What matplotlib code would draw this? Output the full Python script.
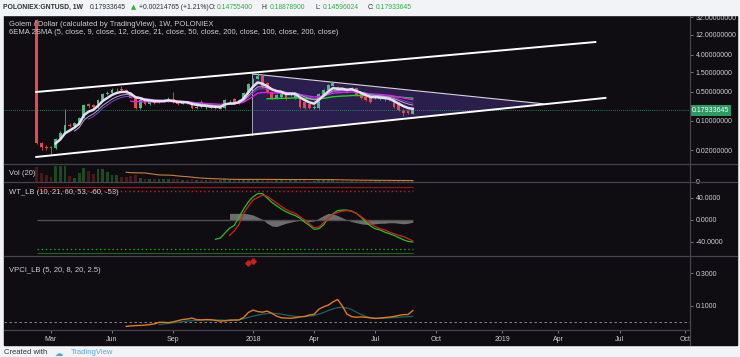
import numpy as np
import pandas as pd
import matplotlib
matplotlib.use('Agg')
import matplotlib.pyplot as plt
import matplotlib.dates as mdates
from matplotlib.patches import Rectangle, Polygon
from matplotlib.lines import Line2D
from matplotlib.ticker import NullLocator
import matplotlib.transforms as mtrans

plt.rcParams['font.family'] = ['Liberation Sans', 'DejaVu Sans']

# weekly candles POLONIEX:GNTUSD
weeks = pd.date_range('2017-02-13', periods=81, freq='W-MON')

opens = [27.0, 0.030, 0.024, 0.023, 0.022, 0.037, 0.051, 0.082, 0.076, 0.090,
         0.118, 0.25, 0.24, 0.22, 0.32, 0.45, 0.47, 0.55, 0.59, 0.56,
         0.48, 0.36, 0.21, 0.30, 0.25, 0.30, 0.28, 0.295, 0.30, 0.34,
         0.30, 0.26, 0.28, 0.27, 0.21, 0.29, 0.215, 0.24, 0.215, 0.20,
         0.21, 0.28, 0.34, 0.27, 0.32, 0.47, 0.78, 1.03, 1.21, 0.82,
         0.50, 0.36, 0.38, 0.45, 0.42, 0.36, 0.36, 0.29, 0.26, 0.21,
         0.21, 0.42, 0.55, 0.70, 0.66, 0.62, 0.59, 0.58, 0.62, 0.47,
         0.38, 0.36, 0.35, 0.34, 0.34, 0.36, 0.36, 0.27, 0.17, 0.17, 0.14755400]
highs = [28.0, 0.032, 0.026, 0.025, 0.040, 0.058, 0.20, 0.090, 0.096, 0.125,
         0.26, 0.27, 0.26, 0.34, 0.48, 0.52, 0.62, 0.62, 0.68, 0.58,
         0.50, 0.38, 0.35, 0.32, 0.32, 0.31, 0.32, 0.33, 0.37, 0.50,
         0.31, 0.30, 0.30, 0.28, 0.24, 0.32, 0.23, 0.25, 0.23, 0.22,
         0.34, 0.32, 0.36, 0.34, 0.50, 0.82, 1.10, 1.45, 1.25, 0.86,
         0.52, 0.45, 0.48, 0.47, 0.47, 0.48, 0.38, 0.30, 0.27, 0.24,
         0.48, 0.60, 0.78, 0.88, 0.70, 0.66, 0.62, 0.66, 0.64, 0.48,
         0.40, 0.37, 0.39, 0.38, 0.36, 0.38, 0.37, 0.28, 0.19, 0.18, 0.18878900]
lows = [0.028, 0.020, 0.020, 0.016, 0.021, 0.035, 0.049, 0.070, 0.072, 0.088,
        0.115, 0.21, 0.20, 0.21, 0.30, 0.43, 0.45, 0.52, 0.53, 0.47,
        0.35, 0.20, 0.20, 0.24, 0.24, 0.26, 0.27, 0.28, 0.29, 0.27,
        0.24, 0.25, 0.26, 0.20, 0.20, 0.21, 0.20, 0.19, 0.19, 0.19,
        0.20, 0.26, 0.26, 0.26, 0.31, 0.45, 0.74, 1.00, 0.62, 0.47,
        0.33, 0.34, 0.36, 0.32, 0.40, 0.34, 0.21, 0.19, 0.19, 0.19,
        0.20, 0.40, 0.52, 0.68, 0.54, 0.56, 0.47, 0.55, 0.40, 0.34,
        0.30, 0.27, 0.33, 0.32, 0.31, 0.30, 0.21, 0.17, 0.13, 0.15, 0.14596024]
closes = [0.030, 0.024, 0.022, 0.022, 0.037, 0.051, 0.080, 0.076, 0.090, 0.118,
          0.24, 0.23, 0.22, 0.32, 0.45, 0.47, 0.56, 0.57, 0.56, 0.50,
          0.36, 0.21, 0.32, 0.25, 0.30, 0.27, 0.30, 0.305, 0.34, 0.28,
          0.26, 0.28, 0.27, 0.21, 0.22, 0.22, 0.22, 0.21, 0.21, 0.21,
          0.32, 0.29, 0.27, 0.32, 0.47, 0.78, 1.03, 1.21, 0.66, 0.50,
          0.36, 0.42, 0.45, 0.34, 0.45, 0.45, 0.22, 0.21, 0.21, 0.22,
          0.45, 0.56, 0.74, 0.82, 0.56, 0.60, 0.50, 0.62, 0.42, 0.36,
          0.32, 0.29, 0.37, 0.36, 0.33, 0.32, 0.22, 0.18, 0.16, 0.16, 0.17933645]
volume = [14.5, 9, 7, 5, 16, 16, 16, 6, 4, 9,
          13.5, 11, 8.5, 12.5, 13, 10, 7, 7, 5, 5,
          6, 7, 4, 3.5, 3.5, 3, 3, 3, 3, 3,
          3, 2.5, 2.5, 3, 2, 2.5, 2, 2, 2, 2,
          3, 2.5, 2, 2.5, 3, 3.5, 3.5, 3, 3, 2.5,
          2.5, 2, 2, 2, 2, 2, 2.5, 2, 1.5, 1.5,
          2, 2, 2, 2, 1.5, 1.5, 1.5, 1.5, 1.5, 1.5,
          1.5, 1.2, 1.2, 1.2, 1.2, 1.2, 1.5, 1.5, 1.2, 1.2, 1.2]

# WT_LB, from bar 38 / 41
wt1 = [-35, -33, -24, -15, -10, 5, 20, 33, 42, 48,
       48, 40, 32, 26, 20, 15, 11, 8, 3, -4,
       -10, -17, -16, -9, 3, 11, 17, 18, 18, 16,
       12, 5, -4, -11, -16, -18, -22, -25, -28, -32,
       -36, -39, -40]
wt2 = [-28, -20, -8, 12, 25, 36, 41, 45, 43, 37,
       31, 25, 19, 15, 12, 6, 0, -7, -14, -13,
       -5, 3, 10, 14, 16, 17, 16, 12, 6, 0,
       -7, -12, -16, -18, -22, -25, -28, -30, -34, -38]
wt_hist = [12, 12, 12, 12, 11, 9, 5, 1, -6, -11,
           -12, -9, -6, -4, -2, -1, -2, -3, -2, 3,
           8, 12, 11, 8, 4, 0, -3, -5, -7, -8,
           -8, -7, -6, -6, -5, -5, -6, -7, -6, -4]

# VPCI_LB, from bar 19 / 26
vpci = [-0.025, -0.022, -0.020, -0.019, -0.017, -0.014, -0.010, 0.0, 0.0, -0.002,
        0.003, 0.010, 0.017, 0.020, 0.026, 0.016, 0.015, 0.017, 0.016, 0.012,
        0.008, 0.009, 0.013, 0.014, 0.014, 0.030, 0.060, 0.075, 0.066, 0.062,
        0.069, 0.055, 0.038, 0.028, 0.026, 0.025, 0.028, 0.033, 0.036, 0.045,
        0.049, 0.080, 0.095, 0.105, 0.125, 0.140, 0.100, 0.050, 0.035, 0.031,
        0.033, 0.031, 0.027, 0.024, 0.026, 0.029, 0.032, 0.036, 0.042, 0.047,
        0.048, 0.072]
vpci_sig = [-0.013, -0.010, -0.007, -0.003, 0.000, 0.004, 0.008, 0.010, 0.012, 0.013,
            0.014, 0.014, 0.014, 0.014, 0.013, 0.013, 0.014, 0.016, 0.022, 0.030,
            0.038, 0.044, 0.050, 0.054, 0.056, 0.054, 0.050, 0.045, 0.040, 0.036,
            0.035, 0.035, 0.038, 0.042, 0.050, 0.060, 0.072, 0.082, 0.090, 0.092,
            0.088, 0.078, 0.062, 0.048, 0.036, 0.028, 0.025, 0.024, 0.025, 0.027,
            0.029, 0.031, 0.033, 0.034, 0.036]
cross_bars = [45, 46]
cross_vals = [0.363, 0.375]

# drawn trendlines (date, price)
chan_up_d = ['2017-02-12', '2019-05-26']; chan_up_p = [0.50, 8.0]
chan_lo_d = ['2017-02-12', '2019-06-10']; chan_lo_p = [0.0136, 0.36]
tri_d = ['2017-12-31', '2019-03-09', '2017-12-31']; tri_p = [1.36, 0.26, 0.047]

price_ticks = [0.02, 0.1, 0.5, 1.5, 4, 12, 32]
time_ticks = ['2017-03-06', '2017-06-05', '2017-09-04', '2018-01-01', '2018-04-02', '2018-07-02',
              '2018-10-01', '2019-01-07', '2019-04-01', '2019-07-01', '2019-10-07']
time_labels = ['Mar', 'Jun', 'Sep', '2018', 'Apr', 'Jul', 'Oct', '2019', 'Apr', 'Jul', 'Oct']

W, H = 740, 357
fig = plt.figure(figsize=(W / 100, H / 100), dpi=100, facecolor='#f1f3f6')
def fx(x): return x / W
def fy(y): return 1 - y / H

bg = '#0f0c12'
fig.patches.append(Rectangle((fx(4), fy(345)), fx(737) - fx(4), fy(15) - fy(345),
                             transform=fig.transFigure, color=bg, zorder=-10))

x = mdates.date2num(weeks)
xmin, xmax = mdates.datestr2num('2016-12-26'), mdates.datestr2num('2019-10-14')
o, h, l, c = map(np.array, (opens, highs, lows, closes))
up = c >= o
GREEN, RED = '#4fb883', '#e5484d'

def pane(top, bottom):
    ax = fig.add_axes([fx(4), fy(bottom), fx(690) - fx(4), fy(top) - fy(bottom)])
    ax.set_facecolor('none')
    for s in ax.spines.values():
        s.set_visible(False)
    ax.yaxis.tick_right()
    ax.tick_params(axis='y', colors='#8a8a8a', labelcolor='#cfcfcf', labelsize=5, length=2.5, width=0.6, pad=1.5)
    ax.tick_params(axis='x', bottom=False, labelbottom=False)
    ax.set_xlim(xmin, xmax)
    return ax

# ---- price pane
ax = pane(15, 164)
ax.set_yscale('log')
ax.set_ylim(0.0092, 35.8)
ax.yaxis.set_minor_locator(NullLocator())
ax.set_yticks(price_ticks)
ax.set_yticklabels([f'{v:.8f}' for v in price_ticks])

ax.add_patch(Polygon(list(zip(mdates.datestr2num(tri_d), tri_p)), closed=True, fc='#2a1e4c', ec='none', zorder=1))
ax.plot(mdates.datestr2num(tri_d[:2]), tri_p[:2], color='#d6d3de', lw=0.8, zorder=2)
ax.plot(mdates.datestr2num([tri_d[0], tri_d[2]]), [tri_p[0], tri_p[2]], color='#a8a4b4', lw=0.7, zorder=2)
ax.plot(mdates.datestr2num(chan_up_d), chan_up_p, color='white', lw=1.4, zorder=6)
ax.plot(mdates.datestr2num(chan_lo_d), chan_lo_p, color='white', lw=1.4, zorder=6)

ax.axhline(closes[-1], color='#2aa774', lw=0.6, ls=(0, (1, 1.5)), zorder=2)

cols = np.where(up, GREEN, RED)
ax.vlines(x, l, h, colors=cols, lw=0.6, zorder=3)
ax.bar(x, np.abs(c - o), bottom=np.minimum(o, c), width=4.2, color=cols, zorder=3)

s = pd.Series(closes)
for n, col, lw in [(50, '#1fd41f', 1.0), (21, '#e01ee6', 1.0), (12, '#7d46c6', 0.7),
                   (9, '#b7a3d8', 0.7), (5, '#e6dff2', 1.8)]:
    ema = s.ewm(span=n, adjust=False, min_periods=n).mean()
    ax.plot(x, ema, color=col, lw=lw, zorder=4)

trans = mtrans.blended_transform_factory(ax.transAxes, ax.transData)
ax.text(1.003, closes[-1], f'{closes[-1]:.8f}', transform=trans, fontsize=5, color='white',
        va='center', ha='left', bbox=dict(boxstyle='square,pad=0.3', fc='#2c9a62', ec='none'), zorder=10)

# ---- volume pane
axv = pane(164, 182)
axv.set_ylim(0, 18)
axv.set_yticks([0])
axv.set_yticklabels(['0'])
axv.bar(x, volume, width=4.2, color=np.where(up, '#1d4a22', '#4a171b'))
axv.plot(x, pd.Series(volume).rolling(20).mean(), color='#c8803e', lw=0.8)

# ---- WT pane
axw = pane(182, 256)
axw.set_ylim(-65.5, 69)
axw.set_yticks([40, 0, -40])
axw.set_yticklabels(['40.0000', '0.0000', '-40.0000'])
axw.fill_between(x[41:], wt_hist, 0, color='#8e8e8e', alpha=0.75, lw=0)
axw.hlines(0, x[0], x[-1], color='#505050', lw=1.0)
axw.hlines(60, x[0], x[-1], color='#8f1b1b', lw=0.8)
axw.hlines(53, x[0], x[-1], color='#c42020', lw=1.0, linestyles=(0, (1, 2)))
axw.hlines(-60, x[0], x[-1], color='#1b6b1b', lw=0.8)
axw.hlines(-53, x[0], x[-1], color='#22a022', lw=1.0, linestyles=(0, (1, 2)))
axw.plot(x[38:], wt1, color='#22c322', lw=0.9)
axw.plot(x[41:], wt2, color='#d41f1f', lw=0.9)

# ---- VPCI pane
axp = pane(256, 330)
axp.set_ylim(-0.047, 0.406)
axp.set_yticks([0.3, 0.1])
axp.set_yticklabels(['0.3000', '0.1000'])
axp.axhline(0, color='#9a9a9a', lw=0.6, ls=(0, (3, 3)))
axp.plot(x[26:], vpci_sig, color='#1b6464', lw=0.9)
axp.plot(x[19:], vpci, color='#e07b1c', lw=1.0)
axp.plot(x[cross_bars], cross_vals, ls='none', marker='P', ms=3.5, color='#c81e1e', clip_on=False)
axp.tick_params(axis='x', bottom=True, labelbottom=True, length=2, width=0.6, colors='#8a8a8a',
                labelcolor='#cfcfcf', labelsize=5, pad=2.5)
axp.set_xticks(mdates.datestr2num(time_ticks))
axp.set_xticklabels(time_labels)

# ---- separators
lc = '#45454c'
for yy in (164, 182, 256):
    fig.add_artist(Line2D([fx(4), fx(737)], [fy(yy)] * 2, transform=fig.transFigure, color=lc, lw=0.9))
fig.add_artist(Line2D([fx(4), fx(690)], [fy(330)] * 2, transform=fig.transFigure, color=lc, lw=0.9))
fig.add_artist(Line2D([fx(690)] * 2, [fy(15), fy(345)], transform=fig.transFigure, color=lc, lw=0.9))

# header cover
fig.patches.append(Rectangle((0, fy(15)), 1, 1 - fy(15), transform=fig.transFigure, color='#f1f3f6', zorder=5))

# ---- texts
dark, grn, lab = '#2a2e39', '#2fae47', '#cfcfcf'
hy = fy(7.5)
hdr = [(3, 'POLONIEX:GNTUSD, 1W', dark, 'bold'), (90, '0.17933645', dark, 'normal'),
       (131, '▲', grn, 'normal'), (139, '+0.00214765 (+1.21%)', dark, 'normal'),
       (209, 'O:', dark, 'normal'), (217, '0.14755400', grn, 'normal'),
       (262, 'H:', dark, 'normal'), (270, '0.18878900', grn, 'normal'),
       (316, 'L:', dark, 'normal'), (323, '0.14596024', grn, 'normal'),
       (368, 'C:', dark, 'normal'), (376, '0.17933645', grn, 'normal')]
for xx, t, col, wgt in hdr:
    fig.text(fx(xx), hy, t, color=col, fontsize=4.9, fontweight=wgt, va='center', ha='left', zorder=6,
             family=['DejaVu Sans'] if t == '▲' else None)

for yy, t in [(25, 'Golem / Dollar (calculated by TradingView), 1W, POLONIEX'),
              (33, '6EMA 2SMA (5, close, 9, close, 12, close, 21, close, 50, close, 200, close, 100, close, 200, close)'),
              (173.5, 'Vol (20)'), (193, 'WT_LB (10, 21, 60, 53, -60, -53)'), (270, 'VPCI_LB (5, 20, 8, 20, 2.5)')]:
    fig.text(fx(9), fy(yy), t, color=lab, fontsize=5.5, va='center', ha='left')

fig.text(fx(4), fy(353), 'Created with', color='#333333', fontsize=5.5, va='center', ha='left')
fig.text(fx(55), fy(353), '☁', color='#4aa3df', fontsize=6, va='center', ha='left', family=['DejaVu Sans'])
fig.text(fx(71), fy(353), 'TradingView', color='#5aa7d8', fontsize=5.5, va='center', ha='left')

fig.savefig('out.png', dpi=100, facecolor=fig.get_facecolor())
